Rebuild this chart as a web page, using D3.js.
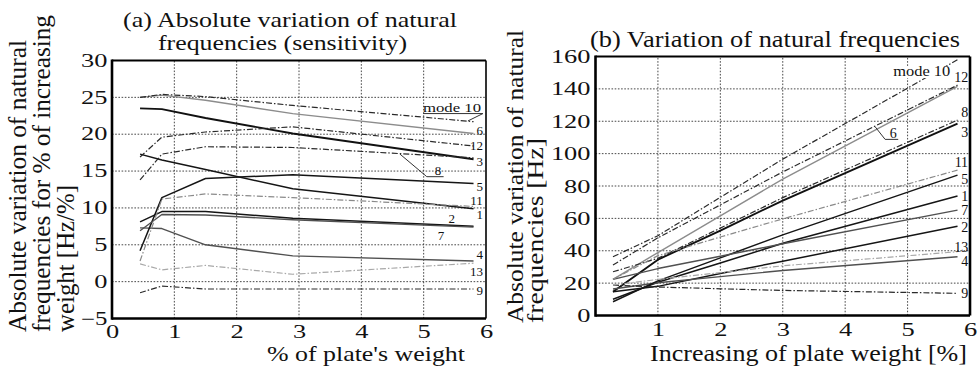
<!DOCTYPE html>
<html><head><meta charset="utf-8">
<script src="https://cdn.jsdelivr.net/npm/d3@7"></script>
<style>
body{margin:0;background:#fff}
svg{display:block}
text{font-family:"Liberation Serif","Times New Roman",serif;fill:#111}
</style>
</head><body>
<svg id="c" width="979" height="370"></svg>
<script>
// ---------- data ----------
const modes = ["1","2","3","4","5","6","7","8","9","10","11","12","13"];

// (a) sensitivity [Hz/%] vs % of plate's weight
const weightsA = [0.45, 0.8, 1.5, 2.9, 5.8];
const sensMode1  = [17.3, 16.5, 15.2, 12.6, 9.9];
const sensMode2  = [8.1, 9.5, 9.5, 8.6, 7.5];
const sensMode3  = [23.5, 23.4, 22.2, 20.1, 16.6];
const sensMode4  = [7.3, 7.2, 5.0, 3.5, 2.8];
const sensMode5  = [4.2, 11.4, 14.0, 14.5, 13.3];
const sensMode6  = [25.0, 25.3, 24.6, 22.8, 20.1];
const sensMode7  = [6.9, 9.1, 9.05, 8.4, 7.4];
const sensMode8  = [13.8, 17.3, 18.3, 18.2, 16.8];
const sensMode9  = [-1.5, -0.6, -1.0, -1.0, -1.0];
const sensMode10 = [25.0, 25.4, 25.1, 23.9, 21.7];
const sensMode11 = [2.8, 11.2, 11.9, 11.4, 10.2];
const sensMode12 = [16.9, 19.6, 20.3, 21.0, 18.4];
const sensMode13 = [2.4, 1.6, 2.2, 1.0, 2.5];
const sensitivity = [sensMode1,sensMode2,sensMode3,sensMode4,sensMode5,sensMode6,sensMode7,
                     sensMode8,sensMode9,sensMode10,sensMode11,sensMode12,sensMode13];

// (b) variation of natural frequencies [Hz] vs increasing plate weight [%]
const weightsB = [0.28, 1, 2, 3, 5.8];
const freqMode1  = [10, 20.5, 32.4, 44.6, 73.8];
const freqMode2  = [14.7, 18, 26, 33.5, 55.2];
const freqMode3  = [14.7, 34.5, 52.5, 71, 118.6];
const freqMode4  = [16.4, 20.2, 24, 27.8, 36.3];
const freqMode5  = [8.5, 21.4, 35.6, 49.8, 86.7];
const freqMode6  = [22.3, 38.9, 61.6, 84.3, 141.5];
const freqMode7  = [22.3, 29, 36.6, 44.3, 65.1];
const freqMode8  = [27.0, 35.3, 54, 72.8, 120.7];
const freqMode9  = [18.8, 17.6, 16.5, 15.5, 13.7];
const freqMode10 = [36.3, 49.3, 73, 96.6, 158];
const freqMode11 = [22.3, 37, 48.5, 59.7, 89.8];
const freqMode12 = [31.2, 48, 68.3, 88.7, 142.3];
const freqMode13 = [18.8, 22.3, 26.5, 30.7, 39.4];
const frequency = [freqMode1,freqMode2,freqMode3,freqMode4,freqMode5,freqMode6,freqMode7,
                   freqMode8,freqMode9,freqMode10,freqMode11,freqMode12,freqMode13];

const ticksAX = [0,1,2,3,4,5,6];
const ticksAY = [-5,0,5,10,15,20,25,30];
const ticksBX = [1,2,3,4,5,6];
const ticksBY = [0,20,40,60,80,100,120,140,160];

// ---------- styles ----------
const lineKind = {
  "1":"black","2":"black","3":"blackThick","4":"darkgray","5":"black","6":"gray","7":"darkgray",
  "8":"dashdot","9":"dashdot","10":"dashdot","11":"dashdotGray","12":"dashdot","13":"dashdotLight"
};
const kindStyle = {
  black:       {stroke:"#151515", width:1.5, dash:null},
  blackThick:  {stroke:"#111", width:1.9, dash:null},
  darkgray:    {stroke:"#505050", width:1.4, dash:null},
  gray:        {stroke:"#8c8c8c", width:1.4, dash:null},
  dashdot:     {stroke:"#2a2a2a", width:1.2, dash:"6,2,1.5,2"},
  dashdotGray: {stroke:"#8a8a8a", width:1.2, dash:"6,2,1.5,2"},
  dashdotLight:{stroke:"#a8a8a8", width:1.2, dash:"6,2,1.5,2"}
};

// annotation anchors (data units)
const labelsA = [
  {t:"mode 10", x:4.99, y:23.0, a:"start", w:58},
  {t:"6",  x:5.95, y:19.9, a:"end"},
  {t:"12", x:5.95, y:17.8, a:"end"},
  {t:"3",  x:5.95, y:15.7, a:"end"},
  {t:"8",  x:5.23, y:14.5, a:"middle"},
  {t:"5",  x:5.95, y:12.3, a:"end"},
  {t:"11", x:5.95, y:10.4, a:"end"},
  {t:"1",  x:5.95, y:8.5,  a:"end"},
  {t:"2",  x:5.45, y:8.0,  a:"middle"},
  {t:"7",  x:5.28, y:5.6,  a:"middle"},
  {t:"4",  x:5.95, y:3.1,  a:"end"},
  {t:"13", x:5.95, y:0.8,  a:"end"},
  {t:"9",  x:5.95, y:-1.8, a:"end"}
];
const leadersA = [
  [[4.99,22.8],[5.95,22.8],[5.71,21.8]],
  [[5.32,14.24],[5.05,14.24],[4.62,17.3]]
];
const labelsB = [
  {t:"mode 10", x:4.77, y:147.9, a:"start", w:57, bg:true},
  {t:"12", x:5.97, y:144.2, a:"end"},
  {t:"8",  x:5.97, y:122.6, a:"end"},
  {t:"3",  x:5.97, y:110.3, a:"end"},
  {t:"6",  x:4.77, y:109.6, a:"middle"},
  {t:"11", x:5.97, y:91.7,  a:"end"},
  {t:"5",  x:5.97, y:81.2,  a:"end"},
  {t:"1",  x:5.97, y:70.7,  a:"end"},
  {t:"7",  x:5.97, y:62.1,  a:"end"},
  {t:"2",  x:5.97, y:51.6,  a:"end"},
  {t:"13", x:5.97, y:39.3,  a:"end"},
  {t:"4",  x:5.97, y:30.6,  a:"end"},
  {t:"9",  x:5.97, y:10.8,  a:"end"}
];
const leadersB = [
  [[4.85,108.8],[4.64,108.8],[4.48,116.6]]
];

// ---------- drawing ----------
const svg = d3.select("#c");
svg.append("rect").attr("width",979).attr("height",370).attr("fill","#fff");

function stretch(sel, w){ sel.attr("textLength", w).attr("lengthAdjust","spacingAndGlyphs"); }

function panel(o){
  const g = svg.append("g");
  const x = d3.scaleLinear().domain(o.xd).range(o.xr);
  const y = d3.scaleLinear().domain(o.yd).range(o.yr);
  // grid
  g.selectAll(".gx").data(o.gridX).join("line")
    .attr("x1",d=>x(d)).attr("x2",d=>x(d)).attr("y1",o.yr[0]).attr("y2",o.yr[1])
    .attr("stroke","#333").attr("stroke-width",0.9).attr("stroke-dasharray","1.6,1.6");
  g.selectAll(".gy").data(o.gridY).join("line")
    .attr("y1",d=>y(d)).attr("y2",d=>y(d)).attr("x1",o.xr[0]).attr("x2",o.xr[1])
    .attr("stroke","#333").attr("stroke-width",0.9).attr("stroke-dasharray","1.6,1.6");
  // series
  const line = d3.line().x((d,i)=>x(o.weights[i])).y(d=>y(d));
  o.values.forEach((vals,i)=>{
    const s = kindStyle[lineKind[modes[i]]];
    g.append("path").attr("d",line(vals)).attr("fill","none")
      .attr("stroke",s.stroke).attr("stroke-width",s.width)
      .attr("stroke-dasharray",s.dash).attr("stroke-linejoin","round");
  });
  // leaders
  o.leaders.forEach(pts=>{
    g.append("path").attr("d",d3.line().x(p=>x(p[0])).y(p=>y(p[1]))(pts))
      .attr("fill","none").attr("stroke","#333").attr("stroke-width",1);
  });
  // labels
  o.labels.forEach(l=>{
    const t = g.append("text").attr("x",x(l.x)).attr("y",y(l.y))
      .attr("text-anchor",l.a).attr("font-size",o.labelFont).text(l.t);
    if(l.w) stretch(t,l.w);
    if(l.bg){
      const b = t.node().getBBox();
      g.insert("rect", function(){ return t.node(); })
        .attr("x",b.x-1).attr("y",b.y+2).attr("width",b.width+2).attr("height",b.height-3)
        .attr("fill","#fff");
    }
  });
  // frame
  const [x0,x1] = o.xr, [y0,y1] = o.yr;
  g.append("line").attr("x1",x0).attr("x2",x1).attr("y1",y0).attr("y2",y0).attr("stroke","#000").attr("stroke-width",2.6);
  g.append("line").attr("x1",x0).attr("x2",x0).attr("y1",y0+1.3).attr("y2",y1-1).attr("stroke","#000").attr("stroke-width",2.6);
  g.append("line").attr("x1",x0).attr("x2",x1).attr("y1",y1).attr("y2",y1).attr("stroke","#000").attr("stroke-width",2.2);
  g.append("line").attr("x1",x1).attr("x2",x1).attr("y1",y0).attr("y2",y1).attr("stroke","#000").attr("stroke-width",o.rightW);
  // axes
  const ay = g.append("g").attr("transform",`translate(${x0},0)`)
    .call(d3.axisLeft(y).tickValues(o.ticksY).tickSize(0).tickPadding(o.padY).tickFormat(d3.format("d")));
  const ax = g.append("g").attr("transform",`translate(0,${y0})`)
    .call(d3.axisBottom(x).tickValues(o.ticksX).tickSize(0).tickPadding(o.padX).tickFormat(d3.format("d")));
  [ay,ax].forEach(a=>{
    a.select(".domain").remove();
    a.attr("font-family",null).attr("font-size",null);
    a.selectAll("text").attr("font-size",o.tickFont).attr("fill","#111")
      .each(function(){ const s=this.textContent; stretch(d3.select(this), s.replace("-","").length*13.2 + (s.includes("-")?8:0)); });
  });
  return {x,y};
}

panel({
  xd:[0,6], xr:[112,486], yd:[-5,30], yr:[318.5,60.5],
  gridX:[1,2,3,4,5], gridY:[0,5,10,15,20,25],
  weights:weightsA, values:sensitivity, labels:labelsA, leaders:leadersA,
  ticksX:ticksAX, ticksY:ticksAY, padX:6.5, padY:4.5, tickFont:18, rightW:1.6, labelFont:13
});
panel({
  xd:[0,6], xr:[595.5,970], yd:[0,160], yr:[315.5,56.5],
  gridX:[1,2,3,4,5], gridY:[20,40,60,80,100,120,140],
  weights:weightsB, values:frequency, labels:labelsB, leaders:leadersB,
  ticksX:ticksBX, ticksY:ticksBY, padX:7.5, padY:5, tickFont:19, rightW:2.6, labelFont:14
});

// titles and axis labels
function txt(s, x, y, size, w, rot){
  const t = svg.append("text").attr("font-size",size).text(s);
  if(rot){ t.attr("transform",`translate(${x},${y}) rotate(-90)`); }
  else { t.attr("x",x).attr("y",y); }
  stretch(t,w);
  return t;
}
txt("(a)  Absolute variation of natural", 123, 27, 21, 334);
txt("frequencies (sensitivity)", 158, 50, 21, 249);
txt("(b)  Variation of natural frequencies", 590, 47, 23, 370);
txt("%  of plate's weight", 267, 361, 22, 198);
txt("Increasing of plate weight  [%]", 650, 361, 23, 317);

txt("Absolute variation of natural", 26, 332, 25, 292, true);
txt("frequencies  for % of increasing", 50, 332, 25, 317, true);
txt("weight  [Hz/%]", 74, 332, 25, 147, true);

txt("Absolute variation of natural", 523, 323, 24, 293, true);
txt("frequencies  [Hz]", 543, 323, 24, 185, true);
</script>
</body></html>
